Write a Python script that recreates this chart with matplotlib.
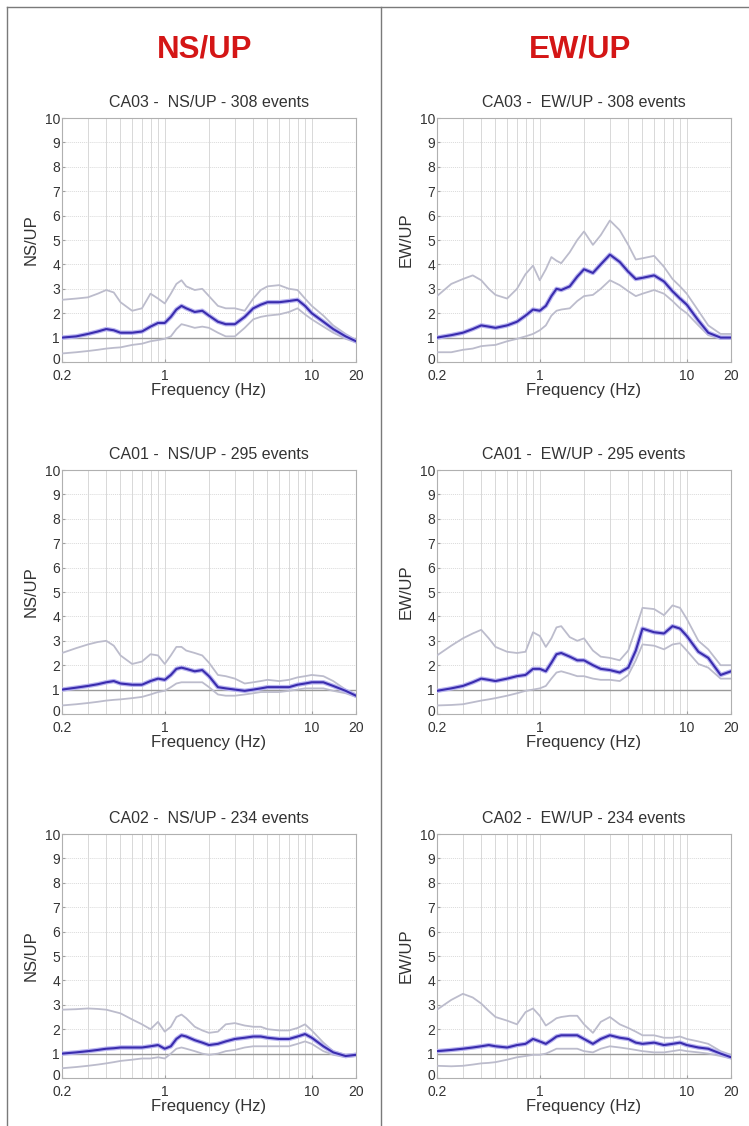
import matplotlib
matplotlib.use('Agg')
import matplotlib.pyplot as plt
import matplotlib.transforms as mtransforms
from matplotlib.lines import Line2D
from matplotlib.ticker import FixedLocator, NullFormatter
import numpy as np

plt.rcParams['font.family'] = ['Liberation Sans', 'DejaVu Sans']

# frequency samples (Hz), shared by every curve
freq = [0.2, 0.25, 0.3, 0.35, 0.4, 0.45, 0.5, 0.6, 0.7, 0.8, 0.9, 1.0, 1.1, 1.2, 1.3,
        1.4, 1.6, 1.8, 2.0, 2.3, 2.6, 3.0, 3.5, 4.0, 4.5, 5.0, 6.0, 7.0, 8.0, 9.0,
        10, 12, 14, 17, 20]

# CA03 NS/UP
ca03_ns_mean = [1.0, 1.05, 1.15, 1.25, 1.35, 1.3, 1.2, 1.2, 1.25, 1.45, 1.6, 1.6, 1.85, 2.15, 2.3,
                2.2, 2.05, 2.1, 1.9, 1.65, 1.55, 1.55, 1.85, 2.2, 2.35, 2.45, 2.45, 2.5, 2.55, 2.3,
                2.0, 1.65, 1.35, 1.05, 0.85]
ca03_ns_up = [2.55, 2.6, 2.65, 2.8, 2.95, 2.85, 2.45, 2.1, 2.2, 2.8, 2.6, 2.4, 2.8, 3.2, 3.35,
              3.1, 2.95, 3.0, 2.7, 2.3, 2.2, 2.2, 2.1, 2.6, 2.95, 3.1, 3.15, 3.0, 2.95, 2.6,
              2.3, 1.9, 1.5, 1.15, 0.9]
ca03_ns_lo = [0.35, 0.4, 0.45, 0.5, 0.55, 0.58, 0.6, 0.7, 0.75, 0.85, 0.9, 0.95, 1.05, 1.35, 1.55,
              1.5, 1.4, 1.45, 1.4, 1.2, 1.05, 1.05, 1.4, 1.75, 1.85, 1.9, 1.95, 2.05, 2.2, 1.95,
              1.75, 1.45, 1.2, 0.95, 0.8]

# CA03 EW/UP
ca03_ew_mean = [1.0, 1.1, 1.2, 1.35, 1.5, 1.45, 1.4, 1.5, 1.65, 1.9, 2.15, 2.1, 2.3, 2.7, 3.0,
                2.95, 3.1, 3.5, 3.8, 3.65, 4.0, 4.4, 4.1, 3.7, 3.4, 3.45, 3.55, 3.3, 2.9, 2.6,
                2.35, 1.7, 1.2, 1.0, 1.0]
ca03_ew_up = [2.7, 3.2, 3.4, 3.55, 3.35, 3.0, 2.75, 2.6, 3.0, 3.6, 3.95, 3.35, 3.8, 4.3, 4.15,
              4.05, 4.5, 5.0, 5.35, 4.8, 5.2, 5.8, 5.4, 4.8, 4.2, 4.25, 4.35, 3.9, 3.4, 3.1,
              2.8, 2.1, 1.5, 1.15, 1.15]
ca03_ew_lo = [0.4, 0.4, 0.5, 0.55, 0.65, 0.68, 0.7, 0.85, 0.95, 1.05, 1.15, 1.3, 1.5, 1.9, 2.1,
              2.15, 2.2, 2.5, 2.7, 2.75, 3.0, 3.35, 3.15, 2.9, 2.7, 2.8, 2.95, 2.8, 2.5, 2.2,
              2.0, 1.5, 1.1, 0.95, 0.95]

# CA01 NS/UP
ca01_ns_mean = [1.0, 1.08, 1.15, 1.22, 1.3, 1.35, 1.25, 1.2, 1.2, 1.35, 1.45, 1.4, 1.6, 1.85, 1.9,
                1.85, 1.75, 1.8, 1.55, 1.1, 1.05, 1.0, 0.95, 1.0, 1.05, 1.1, 1.1, 1.1, 1.2, 1.25,
                1.3, 1.3, 1.15, 0.95, 0.75]
ca01_ns_up = [2.5, 2.7, 2.85, 2.95, 3.0, 2.8, 2.4, 2.05, 2.15, 2.45, 2.4, 2.05, 2.4, 2.75, 2.75,
              2.6, 2.5, 2.4, 2.1, 1.6, 1.55, 1.45, 1.25, 1.3, 1.35, 1.4, 1.35, 1.4, 1.5, 1.55,
              1.6, 1.55, 1.35, 1.0, 0.8]
ca01_ns_lo = [0.35, 0.4, 0.45, 0.5, 0.55, 0.58, 0.6, 0.65, 0.7, 0.8, 0.9, 0.95, 1.1, 1.25, 1.3,
              1.3, 1.3, 1.3, 1.1, 0.8, 0.75, 0.75, 0.8, 0.85, 0.9, 0.9, 0.9, 0.95, 1.0, 1.05,
              1.05, 1.05, 0.95, 0.85, 0.7]

# CA01 EW/UP
ca01_ew_mean = [0.95, 1.05, 1.15, 1.3, 1.45, 1.4, 1.35, 1.45, 1.55, 1.6, 1.85, 1.85, 1.75, 2.1, 2.45,
                2.5, 2.35, 2.2, 2.2, 2.0, 1.85, 1.8, 1.7, 1.9, 2.6, 3.5, 3.35, 3.3, 3.6, 3.5,
                3.2, 2.55, 2.3, 1.6, 1.75]
ca01_ew_up = [2.4, 2.8, 3.1, 3.3, 3.45, 3.1, 2.75, 2.55, 2.5, 2.55, 3.35, 3.2, 2.75, 3.1, 3.55,
              3.6, 3.15, 3.0, 3.1, 2.6, 2.35, 2.3, 2.2, 2.6, 3.5, 4.35, 4.3, 4.05, 4.45, 4.35,
              3.9, 3.0, 2.65, 2.0, 2.0]
ca01_ew_lo = [0.35, 0.37, 0.4, 0.48, 0.55, 0.6, 0.65, 0.75, 0.85, 0.95, 1.0, 1.05, 1.15, 1.45, 1.7,
              1.75, 1.65, 1.55, 1.55, 1.45, 1.4, 1.4, 1.35, 1.6, 2.2, 2.85, 2.8, 2.65, 2.85, 2.9,
              2.6, 2.05, 1.9, 1.45, 1.45]

# CA02 NS/UP
ca02_ns_mean = [1.0, 1.05, 1.1, 1.15, 1.2, 1.22, 1.25, 1.25, 1.25, 1.3, 1.35, 1.2, 1.3, 1.6, 1.75,
                1.7, 1.55, 1.45, 1.35, 1.4, 1.5, 1.6, 1.65, 1.7, 1.7, 1.65, 1.6, 1.6, 1.7, 1.8,
                1.65, 1.3, 1.05, 0.9, 0.95]
ca02_ns_up = [2.8, 2.82, 2.85, 2.83, 2.8, 2.72, 2.65, 2.4, 2.2, 2.0, 2.3, 1.9, 2.1, 2.5, 2.6,
              2.45, 2.1, 1.95, 1.85, 1.9, 2.2, 2.25, 2.15, 2.1, 2.1, 2.0, 1.95, 1.95, 2.05, 2.2,
              1.95, 1.45, 1.1, 0.95, 1.0]
ca02_ns_lo = [0.4, 0.45, 0.5, 0.55, 0.6, 0.65, 0.7, 0.75, 0.8, 0.8, 0.85, 0.8, 1.0, 1.2, 1.25,
              1.2, 1.1, 1.0, 0.95, 1.0, 1.1, 1.15, 1.25, 1.3, 1.3, 1.3, 1.3, 1.3, 1.4, 1.5,
              1.4, 1.1, 0.95, 0.85, 0.9]

# CA02 EW/UP
ca02_ew_mean = [1.1, 1.15, 1.2, 1.25, 1.3, 1.35, 1.3, 1.25, 1.35, 1.4, 1.6, 1.5, 1.4, 1.55, 1.7,
                1.75, 1.75, 1.75, 1.6, 1.4, 1.6, 1.75, 1.65, 1.6, 1.45, 1.4, 1.45, 1.35, 1.4, 1.45,
                1.35, 1.25, 1.2, 1.0, 0.85]
ca02_ew_up = [2.8, 3.2, 3.45, 3.3, 3.05, 2.75, 2.5, 2.35, 2.2, 2.7, 2.85, 2.55, 2.15, 2.3, 2.45,
              2.5, 2.55, 2.55, 2.2, 1.85, 2.3, 2.5, 2.2, 2.05, 1.9, 1.75, 1.75, 1.65, 1.65, 1.7,
              1.6, 1.5, 1.4, 1.1, 0.95]
ca02_ew_lo = [0.5, 0.48, 0.5, 0.55, 0.6, 0.62, 0.65, 0.75, 0.85, 0.9, 0.95, 0.95, 1.0, 1.1, 1.2,
              1.2, 1.2, 1.2, 1.1, 1.05, 1.2, 1.3, 1.25, 1.2, 1.15, 1.1, 1.05, 1.05, 1.1, 1.15,
              1.1, 1.05, 1.0, 0.9, 0.8]

stations = ['CA03', 'CA01', 'CA02']
n_events = [308, 295, 234]
components = ['NS/UP', 'EW/UP']
curves = {
    ('CA03', 'NS/UP'): (ca03_ns_mean, ca03_ns_up, ca03_ns_lo),
    ('CA03', 'EW/UP'): (ca03_ew_mean, ca03_ew_up, ca03_ew_lo),
    ('CA01', 'NS/UP'): (ca01_ns_mean, ca01_ns_up, ca01_ns_lo),
    ('CA01', 'EW/UP'): (ca01_ew_mean, ca01_ew_up, ca01_ew_lo),
    ('CA02', 'NS/UP'): (ca02_ns_mean, ca02_ns_up, ca02_ns_lo),
    ('CA02', 'EW/UP'): (ca02_ew_mean, ca02_ew_up, ca02_ew_lo),
}

W, H = 749, 1126
fig = plt.figure(figsize=(W / 100, H / 100), dpi=100)

col_left = [62, 437]      # pixel left edge of each column
row_top = [118, 470, 834]  # pixel top edge of each row
ax_w, ax_h = 294, 244

minor_x = [0.3, 0.4, 0.5, 0.6, 0.7, 0.8, 0.9, 2, 3, 4, 5, 6, 7, 8, 9]

# small upward nudge for the "0" y label so it sits on top of "0.2"
nudge_up = mtransforms.ScaledTranslation(0, 3 / 100, fig.dpi_scale_trans)

for r, (st, nev) in enumerate(zip(stations, n_events)):
    for c, comp in enumerate(components):
        rect = [col_left[c] / W, 1 - (row_top[r] + ax_h) / H, ax_w / W, ax_h / H]
        ax = fig.add_axes(rect)
        mean, up, lo = curves[(st, comp)]
        f = np.array(freq)

        ax.axhline(1, color='#9a9a9a', lw=1.0, zorder=2)
        ax.plot(f, up, color='#bcbccc', lw=1.3, zorder=3)
        ax.plot(f, lo, color='#bcbccc', lw=1.3, zorder=3)
        ax.plot(f, mean, color='#b8b4f0', lw=3.2, zorder=4)
        ax.plot(f, mean, color='#3a2cae', lw=1.5, zorder=5)

        ax.set_xscale('log')
        ax.set_xlim(0.2, 20)
        ax.set_ylim(0, 10)
        ax.set_xticks([0.2, 1, 10, 20])
        ax.set_xticklabels(['0.2', '1', '10', '20'])
        ax.xaxis.set_minor_locator(FixedLocator(minor_x))
        ax.xaxis.set_minor_formatter(NullFormatter())
        ax.set_yticks(range(11))

        ax.grid(True, which='both', axis='x', color='#d8d8d8', lw=0.7, zorder=0)
        ax.grid(True, which='major', axis='y', color='#dadada', lw=0.7, ls=(0, (1, 1)), zorder=0)

        ax.tick_params(axis='both', which='both', direction='in', length=2,
                       labelsize=10, colors='#a0a0a0', labelcolor='#333333', pad=1.5)
        ax.tick_params(axis='x', which='major', pad=5)
        ax.tick_params(axis='x', which='minor', length=0)
        lab0 = ax.get_yticklabels()[0]
        lab0.set_transform(lab0.get_transform() + nudge_up)
        for s in ax.spines.values():
            s.set_color('#b0b0b0')
            s.set_linewidth(0.8)

        ax.set_title(f'{st} -  {comp} - {nev} events', fontsize=11.5, color='#333333', pad=8)
        ax.set_ylabel(comp, fontsize=12, color='#333333', labelpad=4)
        ax.set_xlabel('Frequency (Hz)', fontsize=12, color='#333333', labelpad=0)

# column headers
fig.text(205 / W, 1 - 50 / H, 'NS/UP', ha='center', va='center',
         fontsize=22.5, fontweight='bold', color='#d41616')
fig.text(580 / W, 1 - 50 / H, 'EW/UP', ha='center', va='center',
         fontsize=22.5, fontweight='bold', color='#d41616')

# outer frame and column divider
frame_kw = dict(color='#7a7a7a', lw=1.0, transform=fig.transFigure)
fig.add_artist(Line2D([7 / W, 1], [1 - 7 / H, 1 - 7 / H], **frame_kw))
fig.add_artist(Line2D([7 / W, 7 / W], [0, 1 - 7 / H], **frame_kw))
fig.add_artist(Line2D([381 / W, 381 / W], [0, 1 - 7 / H], **frame_kw))

fig.savefig('out.png', dpi=100)
